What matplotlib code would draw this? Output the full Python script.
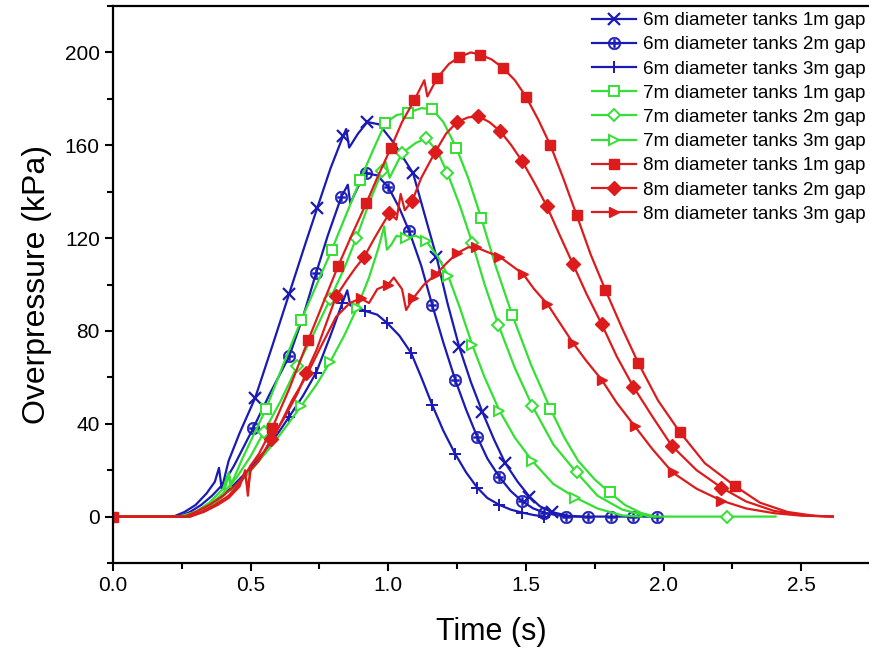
import matplotlib
matplotlib.use("Agg")
import matplotlib.pyplot as plt
from matplotlib.ticker import MultipleLocator

plt.rcParams['font.family'] = ['Liberation Sans', 'DejaVu Sans']

# ---- data (time in s, overpressure in kPa) ----
t_6_1 = [0, 0.22, 0.26, 0.30, 0.34, 0.37, 0.385, 0.395, 0.42, 0.46, 0.516, 0.58, 0.64, 0.70, 0.742, 0.79,
         0.836, 0.847, 0.858, 0.89, 0.924, 0.967, 1.02, 1.09, 1.13, 1.175, 1.215, 1.258, 1.30, 1.342, 1.385,
         1.425, 1.47, 1.513, 1.55, 1.593, 1.65, 1.70]
p_6_1 = [0, 0, 2, 5, 10, 15, 21, 12, 24, 36, 51, 74, 96, 118, 133, 150,
         164, 167, 159, 165, 170, 169, 161, 148, 131, 112, 92, 73, 58, 45, 33,
         23, 15, 8.6, 4.5, 2, 0.4, 0]
m_6_1 = [0.516, 0.64, 0.742, 0.836, 0.924, 1.09, 1.175, 1.258, 1.342, 1.425, 1.513, 1.593]

t_6_2 = [0, 0.24, 0.28, 0.32, 0.36, 0.40, 0.44, 0.509, 0.57, 0.64, 0.69, 0.738, 0.78, 0.829, 0.853, 0.862,
         0.89, 0.92, 0.96, 1.0, 1.04, 1.076, 1.12, 1.16, 1.2, 1.243, 1.283, 1.323, 1.36, 1.404, 1.445, 1.487,
         1.527, 1.567, 1.607, 1.647, 1.727, 1.81, 1.89, 1.975]
p_6_2 = [0, 0, 2, 5, 9, 14, 22, 38, 53, 69, 86, 105, 121, 137.6, 143, 135,
         142, 148, 147, 142, 133, 123, 108, 91, 75, 59, 46, 34.4, 25, 17, 11, 6.5,
         3.5, 1.7, 0.7, 0, 0, 0, 0, 0]
m_6_2 = [0.509, 0.64, 0.738, 0.829, 0.92, 1.0, 1.076, 1.16, 1.243, 1.323, 1.404, 1.487, 1.567, 1.647,
         1.727, 1.81, 1.89, 1.975]

t_6_3 = [0, 0.28, 0.32, 0.36, 0.40, 0.45, 0.50, 0.55, 0.60, 0.64, 0.69, 0.738, 0.79, 0.833, 0.851, 0.862,
         0.89, 0.916, 0.96, 0.996, 1.04, 1.083, 1.12, 1.16, 1.2, 1.243, 1.283, 1.323, 1.36, 1.404, 1.445,
         1.487, 1.527, 1.567]
p_6_3 = [0, 0, 2, 5, 9, 15, 21, 28, 36, 43, 52, 62, 78, 92, 97.5, 91,
         90, 88.6, 87, 83.4, 78, 70.5, 60, 48, 37, 27, 19, 12.5, 8, 5, 3,
         1.7, 0.7, 0]
m_6_3 = [0.64, 0.738, 0.833, 0.916, 0.996, 1.083, 1.16, 1.243, 1.323, 1.404, 1.487, 1.567]

t_7_1 = [0, 0.24, 0.30, 0.35, 0.40, 0.42, 0.43, 0.47, 0.51, 0.556, 0.62, 0.684, 0.74, 0.795, 0.85, 0.898,
         0.945, 0.989, 1.03, 1.073, 1.12, 1.16, 1.2, 1.247, 1.29, 1.338, 1.39, 1.45, 1.52, 1.589, 1.64,
         1.69, 1.75, 1.804, 1.86, 1.92, 1.97]
p_7_1 = [0, 0, 2, 6, 12, 19, 14, 25, 35, 46.4, 66, 84.7, 100, 115, 131, 145,
         158, 169.5, 173, 174, 176, 175.5, 170, 159, 146, 128.6, 108, 87, 65, 46.4, 34,
         24, 16, 10.4, 5, 1.5, 0]
m_7_1 = [0.556, 0.684, 0.795, 0.898, 0.989, 1.073, 1.16, 1.247, 1.338, 1.45, 1.589, 1.804]

t_7_2 = [0, 0.25, 0.30, 0.35, 0.40, 0.45, 0.50, 0.549, 0.61, 0.67, 0.73, 0.789, 0.84, 0.884, 0.93, 0.978,
         0.99, 1.005, 1.05, 1.1, 1.138, 1.18, 1.215, 1.26, 1.305, 1.35, 1.40, 1.46, 1.523, 1.6, 1.684,
         1.76, 1.85, 1.95, 2.23, 2.407]
p_7_2 = [0, 0, 2, 5, 10, 17, 26, 36.6, 50, 65, 79, 93.8, 107, 120, 135, 149,
         153, 146, 156.6, 161, 163, 157, 148, 134, 118, 100, 82.6, 64, 47.7, 31, 19,
         9, 3, 0, 0, 0]
m_7_2 = [0.549, 0.67, 0.789, 0.884, 0.978, 1.05, 1.138, 1.215, 1.305, 1.40, 1.523, 1.684, 2.23]

t_7_3 = [0, 0.28, 0.32, 0.36, 0.40, 0.42, 0.43, 0.48, 0.53, 0.58, 0.63, 0.684, 0.74, 0.789, 0.84, 0.887,
         0.93, 0.965, 0.985, 0.995, 1.01, 1.03, 1.065, 1.10, 1.138, 1.18, 1.218, 1.26, 1.305, 1.35, 1.404,
         1.46, 1.523, 1.6, 1.68, 1.76, 1.85, 1.92]
p_7_3 = [0, 0, 2, 5, 9, 18, 11, 17, 24, 31, 39, 47.7, 57, 66.7, 78, 90,
         103, 116, 125, 115, 117, 121, 120, 121, 118.7, 112, 103.6, 90, 74, 60, 45.6,
         34, 24, 14, 8.2, 3.5, 0.5, 0]
m_7_3 = [0.684, 0.789, 0.887, 1.065, 1.138, 1.218, 1.305, 1.404, 1.523, 1.68]

t_8_1 = [0, 0.26, 0.30, 0.35, 0.40, 0.45, 0.48, 0.50, 0.53, 0.578, 0.64, 0.709, 0.76, 0.818, 0.87, 0.92,
         0.96, 1.01, 1.05, 1.095, 1.131, 1.142, 1.178, 1.22, 1.258, 1.3, 1.335, 1.375, 1.415, 1.46, 1.50,
         1.545, 1.589, 1.635, 1.684, 1.735, 1.789, 1.85, 1.909, 1.98, 2.058, 2.15, 2.258, 2.35, 2.45, 2.55,
         2.615]
p_8_1 = [0, 0, 2, 5, 9, 14, 18, 22, 27, 38, 55, 76, 91, 108, 122, 135,
         146, 159, 170, 179.5, 188, 181, 189, 195, 198, 200, 199, 197, 193.5, 188, 181,
         171, 160, 146, 130, 113, 97.6, 81, 66, 50, 36.6, 23, 13.3, 6, 2, 0.3,
         0]
m_8_1 = [0, 0.578, 0.709, 0.818, 0.92, 1.01, 1.095, 1.178, 1.258, 1.335, 1.415, 1.50, 1.589, 1.684,
         1.789, 1.909, 2.058, 2.258]

t_8_2 = [0, 0.27, 0.32, 0.37, 0.42, 0.46, 0.48, 0.49, 0.50, 0.53, 0.575, 0.62, 0.67, 0.702, 0.74, 0.78,
         0.811, 0.85, 0.88, 0.913, 0.95, 0.98, 1.004, 1.03, 1.045, 1.06, 1.087, 1.12, 1.17, 1.21, 1.25,
         1.29, 1.327, 1.367, 1.407, 1.447, 1.487, 1.53, 1.575, 1.62, 1.67, 1.72, 1.775, 1.83, 1.89, 1.96,
         2.03, 2.12, 2.21, 2.3, 2.4, 2.5, 2.615]
p_8_2 = [0, 0, 2, 5, 9, 14, 18, 12, 20, 24, 33.5, 42, 53, 62, 72, 85,
         95, 102, 107, 112, 120, 126, 130.7, 128, 139, 132, 136, 146, 157, 165, 170,
         172, 172.5, 170, 166, 160, 153, 144, 134, 122, 109, 96, 83, 69, 56, 43,
         30.5, 20, 12.5, 6.5, 2.5, 0.6, 0]
m_8_2 = [0.575, 0.702, 0.811, 0.913, 1.004, 1.087, 1.17, 1.25, 1.327, 1.407, 1.487, 1.575, 1.67, 1.775,
         1.89, 2.03, 2.21]

t_8_3 = [0, 0.28, 0.33, 0.38, 0.42, 0.46, 0.48, 0.49, 0.50, 0.55, 0.6, 0.65, 0.7, 0.75, 0.81, 0.86,
         0.9, 0.93, 0.96, 1.0, 1.02, 1.05, 1.065, 1.09, 1.13, 1.175, 1.21, 1.25, 1.29, 1.32, 1.36,
         1.404, 1.45, 1.49, 1.53, 1.578, 1.62, 1.67, 1.72, 1.775, 1.83, 1.895, 1.96, 2.033, 2.12, 2.21,
         2.3, 2.4, 2.5, 2.615]
p_8_3 = [0, 0, 2, 5, 8, 13, 20, 9, 22, 28, 38, 50, 60, 72, 86, 92,
         94, 92, 98, 100, 103, 98, 89, 94, 100, 104.5, 109, 113.5, 116, 116, 114,
         112, 108, 104.5, 98, 91.6, 84, 75, 67, 59, 49, 39, 29, 19, 12, 6.9,
         3.5, 1.5, 0.4, 0]
m_8_3 = [0.9, 1.0, 1.09, 1.175, 1.25, 1.32, 1.404, 1.49, 1.578, 1.67, 1.775, 1.895, 2.033, 2.21]

blue = '#1a1ab4'
green = '#33e033'
red = '#dc1c1c'

series = [
    ('6m diameter tanks 1m gap', t_6_1, p_6_1, m_6_1, blue, dict(marker='x', ms=8, mew=1.6)),
    ('6m diameter tanks 2m gap', t_6_2, p_6_2, m_6_2, blue, dict(marker=r'$\oplus$', ms=9, mew=0.4)),
    ('6m diameter tanks 3m gap', t_6_3, p_6_3, m_6_3, blue, dict(marker='+', ms=9, mew=1.4)),
    ('7m diameter tanks 1m gap', t_7_1, p_7_1, m_7_1, green, dict(marker='s', ms=7, mfc='white', mew=1.4)),
    ('7m diameter tanks 2m gap', t_7_2, p_7_2, m_7_2, green, dict(marker='D', ms=6, mfc='white', mew=1.4)),
    ('7m diameter tanks 3m gap', t_7_3, p_7_3, m_7_3, green, dict(marker='>', ms=7, mfc='white', mew=1.4)),
    ('8m diameter tanks 1m gap', t_8_1, p_8_1, m_8_1, red, dict(marker='s', ms=7.5)),
    ('8m diameter tanks 2m gap', t_8_2, p_8_2, m_8_2, red, dict(marker='D', ms=7)),
    ('8m diameter tanks 3m gap', t_8_3, p_8_3, m_8_3, red, dict(marker='>', ms=7.5)),
]

fig = plt.figure(figsize=(8.7, 6.59), dpi=100)
ax = fig.add_axes([113 / 870, 96 / 659, 757 / 870, 557 / 659])

for label, t, p, mk, color, style in series:
    idx = [t.index(v) for v in mk]
    ax.plot(t, p, color=color, lw=1.6, label=label, markevery=idx, **style)

ax.set_xlim(0, 2.75)
ax.set_ylim(-20, 220)
ax.xaxis.set_major_locator(MultipleLocator(0.5))
ax.xaxis.set_minor_locator(MultipleLocator(0.25))
ax.yaxis.set_major_locator(MultipleLocator(40))
ax.yaxis.set_minor_locator(MultipleLocator(20))
ax.xaxis.set_major_formatter(plt.FuncFormatter(lambda v, _: f'{v:.1f}'))
ax.tick_params(which='both', direction='out', width=1.5, labelsize=15, top=False, right=False)
ax.tick_params(which='major', length=6)
ax.tick_params(which='minor', length=4)
ax.spines['right'].set_visible(False)
for s in ['left', 'bottom', 'top']:
    ax.spines[s].set_linewidth(1.6)

ax.set_xlabel('Time (s)', fontsize=22, labelpad=16)
ax.set_ylabel('Overpressure (kPa)', fontsize=23, labelpad=9)

ax.legend(loc='upper right', bbox_to_anchor=(866 / 870, 1 - 12 / 659), bbox_transform=fig.transFigure,
          frameon=False, fontsize=13.6, labelspacing=0.37, handlelength=2.3, handletextpad=0.4,
          borderpad=0, borderaxespad=0)

fig.savefig('out.png', dpi=100)
